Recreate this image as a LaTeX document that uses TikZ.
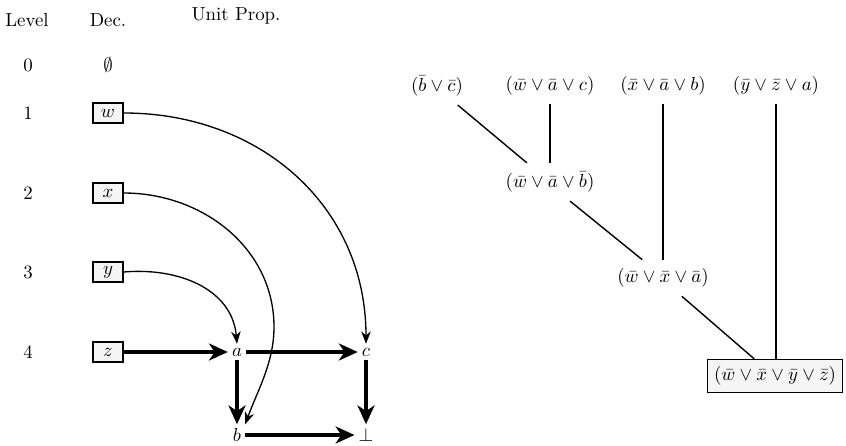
\documentclass[tikz,border=0pt]{standalone}
\usetikzlibrary{arrows.meta}
\begin{document}
\begin{tikzpicture}[x=0.53pt,y=-0.53pt,
  decbox/.style={draw,line width=0.7pt,fill=gray!8,minimum width=16pt,minimum height=10.6pt,inner sep=1pt},
  lit/.style={inner sep=2pt},
  thinarr/.style={line width=0.7pt,-{Stealth[length=6.5pt,width=5pt,inset=2pt]}},
  thickarr/.style={line width=2pt,-{Stealth[length=10pt,width=9pt,inset=3pt]}},
  clause/.style={inner sep=4.5pt},
  res/.style={line width=0.75pt}]
\useasboundingbox (0,0) rectangle (846,445);
% headers
\node (hl) at (27,20) {Level};
\node (hd) at (108,20) {Dec.};
\node (hu) at (236,16) {Unit Prop.};
% levels
\node (l0) at (28,65) {0};
\node (l1) at (28,113) {1};
\node (l2) at (28,193) {2};
\node (l3) at (28,272) {3};
\node (l4) at (28,352) {4};
% decisions
\node (d0) at (108,65) {$\emptyset$};
\node[decbox] (w) at (108,113) {$w$};
\node[decbox] (x) at (108,193) {$x$};
\node[decbox] (y) at (108,272) {$y$};
\node[decbox] (z) at (108,352) {$z$};
% implied
\node[lit] (a) at (237,352) {$a$};
\node[lit] (c) at (366,352) {$c$};
\node[lit] (b) at (237,435) {$b$};
\node[lit] (f) at (366,435) {$\bot$};
% thick arrows
\draw[thickarr] (z) -- (a);
\draw[thickarr] (a) -- (c);
\draw[thickarr] (a) -- (b);
\draw[thickarr] (c) -- (f);
\draw[thickarr] (b) -- (f);
% thin curved arrows
\coordinate (xr) at (274,327);
\draw[thinarr] (w.east) to[out=0,in=90,looseness=1.05] (c.north);
\draw[thinarr] (x.east) to[out=0,in=90] (xr) to[out=-90,in=70,looseness=0.9] (b.north east);
\draw[thinarr] (y.east) to[out=5,in=95,looseness=1.05] (a.north);
% resolution tree
\node[clause] (bc) at (437,86) {$(\bar b\lor\bar c)$};
\node[clause] (wac) at (550,86) {$(\bar w\lor\bar a\lor c)$};
\node[clause] (xab) at (663,86) {$(\bar x\lor\bar a\lor b)$};
\node[clause] (yza) at (776,86) {$(\bar y\lor\bar z\lor a)$};
\node[clause] (wab) at (550,182) {$(\bar w\lor\bar a\lor\bar b)$};
\node[clause] (wxa) at (663,278) {$(\bar w\lor\bar x\lor\bar a)$};
\node[draw,line width=0.75pt,fill=gray!8,inner xsep=3.5pt,inner ysep=3.7pt] (wxyz) at (775,376) {$(\bar w\lor\bar x\lor\bar y\lor\bar z)$};
\draw[res] ([xshift=11pt]bc.south) -- ([xshift=-12.2pt]wab.north);
\draw[res] (wac.south) -- (wab.north);
\draw[res] (xab.south) -- (xab.south |- wxa.north);
\draw[res] ([xshift=10.6pt]wab.south) -- ([xshift=-11pt]wxa.north);
\draw[res] ([xshift=10pt]wxa.south) -- ([xshift=-11pt]wxyz.north);
\draw[res] (yza.south) -- (yza.south |- wxyz.north);
\end{tikzpicture}
\end{document}
